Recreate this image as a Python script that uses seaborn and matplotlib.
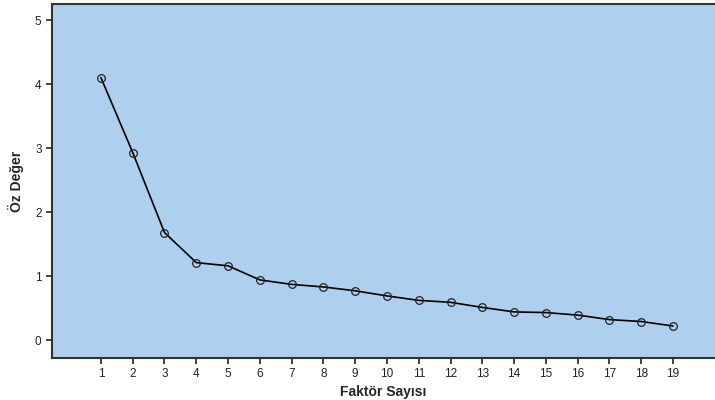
import matplotlib
matplotlib.use("Agg")
import matplotlib.pyplot as plt
import seaborn as sns
import pandas as pd

# Scree plot verileri
faktor = list(range(1, 20))
oz_deger = [4.10, 2.93, 1.68, 1.21, 1.16, 0.94, 0.87, 0.83, 0.77, 0.69,
            0.62, 0.59, 0.51, 0.44, 0.43, 0.39, 0.32, 0.29, 0.22]
y_ticks = [0, 1, 2, 3, 4, 5]

df = pd.DataFrame({"Faktör Sayısı": faktor, "Öz Değer": oz_deger})

sns.set_style("ticks")
plt.rcParams["font.family"] = ["Liberation Sans", "DejaVu Sans"]

fig = plt.figure(figsize=(7.15, 4.0), dpi=100)
ax = fig.add_axes([0.0727, 0.105, 0.9273, 0.885])
ax.set_facecolor("#AED0EE")

sns.lineplot(data=df, x="Faktör Sayısı", y="Öz Değer", ax=ax, color="black",
             linewidth=1.2, marker="o", markersize=5.5, markerfacecolor="none",
             markeredgecolor="#222222", markeredgewidth=0.9)

ax.set_xlim(-0.54, 20.32)
ax.set_ylim(-0.28, 5.25)
ax.set_xticks(faktor)
ax.set_yticks(y_ticks)
ax.tick_params(axis="both", labelsize=8.5, length=4, width=1.2, colors="#222222",
               direction="out")
ax.set_xlabel("Faktör Sayısı", fontsize=10, fontweight="bold", labelpad=3)
ax.set_ylabel("Öz Değer", fontsize=10, fontweight="bold", labelpad=8)

for s in ["left", "bottom", "top"]:
    ax.spines[s].set_color("#333333")
    ax.spines[s].set_linewidth(1.5)
ax.spines["right"].set_visible(False)

fig.savefig("out.png", dpi=100)
